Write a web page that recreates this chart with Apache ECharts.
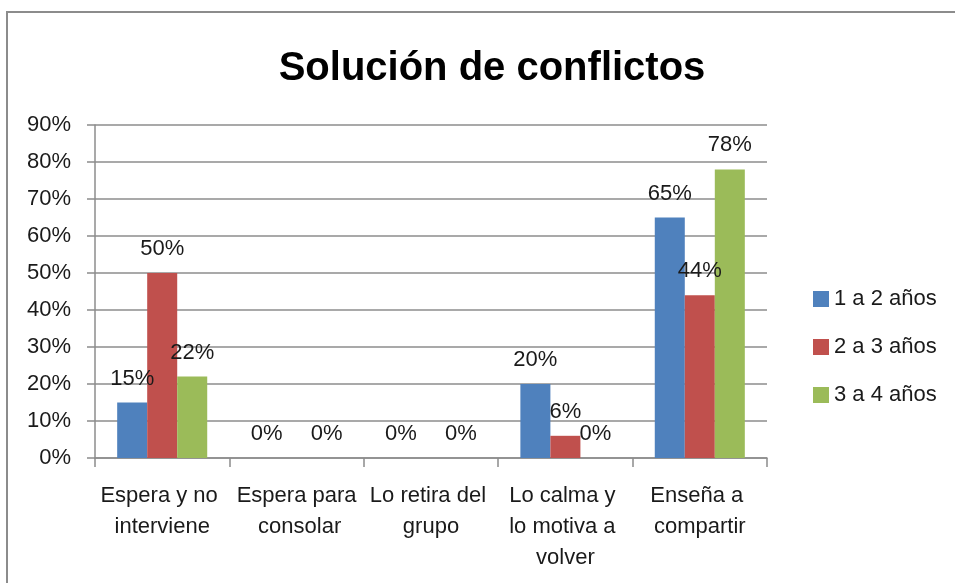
<!DOCTYPE html>
<html>
<head>
<meta charset="utf-8">
<script src="https://cdn.jsdelivr.net/npm/echarts@6/dist/echarts.min.js"></script>
<style>
  html, body { margin: 0; padding: 0; background: #fff; }
  #main { width: 955px; height: 583px; }
</style>
</head>
<body>
<div id="main"></div>
<script>
// datos
var categorias = ['Espera y no interviene', 'Espera para consolar', 'Lo retira del grupo', 'Lo calma y lo motiva a volver', 'Enseña a compartir'];
var edades = ['1 a 2 años', '2 a 3 años', '3 a 4 años'];
var uno_dos = [15, 0, 0, 20, 65];
var dos_tres = [50, 0, 0, 6, 44];
var tres_cuatro = [22, 0, 0, 0, 78];
var colores = ['#4F81BD', '#C0504D', '#9BBB59'];

var fuente = '"Liberation Sans", Arial, sans-serif';

function serie(nombre, datos, ocultarCero) {
    return {
        name: nombre,
        type: 'bar',
        barGap: '0%',
        barCategoryGap: '33%',
        data: datos,
        label: {
            show: true,
            position: 'top',
            distance: 13,
            color: '#1a1a1a',
            fontSize: 22,
            fontFamily: fuente,
            formatter: function (p) {
                // en Excel la etiqueta roja de 0% no aparece
                if (ocultarCero && p.value === 0) return '';
                return p.value + '%';
            }
        }
    };
}

var chart = echarts.init(document.getElementById('main'));
var option = {
    color: colores,
    animation: false,
    title: {
        text: 'Solución de conflictos',
        left: 487,
        textAlign: 'center',
        top: 44,
        textStyle: {
            fontFamily: fuente,
            fontWeight: 'bold',
            fontSize: 40,
            color: '#000'
        }
    },
    graphic: [{
        type: 'rect',
        shape: { x: 7, y: 12, width: 1000, height: 1000 },
        style: { fill: null, stroke: '#8c8c8c', lineWidth: 2 },
        silent: true
    }],
    legend: {
        orient: 'vertical',
        left: 808,
        top: 283,
        itemWidth: 16,
        itemHeight: 16,
        itemGap: 26,
        icon: 'rect',
        data: edades,
        textStyle: {
            fontFamily: fuente,
            fontSize: 22,
            color: '#1a1a1a'
        }
    },
    grid: {
        left: 95,
        right: 188,
        top: 125,
        bottom: 125
    },
    xAxis: {
        type: 'category',
        data: categorias,
        axisLine: { lineStyle: { color: '#8c8c8c', width: 1.5 } },
        axisTick: { show: true, length: 9, lineStyle: { color: '#8c8c8c', width: 1.5 } },
        axisLabel: {
            interval: 0,
            margin: 22,
            width: 124,
            overflow: 'break',
            lineHeight: 31,
            fontSize: 22,
            fontFamily: fuente,
            color: '#1a1a1a'
        }
    },
    yAxis: {
        type: 'value',
        min: 0,
        max: 90,
        interval: 10,
        axisLine: { show: true, lineStyle: { color: '#8c8c8c', width: 1.5 } },
        axisTick: { show: true, length: 8, lineStyle: { color: '#8c8c8c', width: 1.5 } },
        axisLabel: {
            formatter: '{value}%',
            margin: 24,
            fontSize: 22,
            fontFamily: fuente,
            color: '#1a1a1a'
        },
        splitLine: { lineStyle: { color: '#8c8c8c', width: 1.5 } }
    },
    series: [
        serie(edades[0], uno_dos, false),
        serie(edades[1], dos_tres, true),
        serie(edades[2], tres_cuatro, false)
    ]
};
chart.setOption(option);
</script>
</body>
</html>
